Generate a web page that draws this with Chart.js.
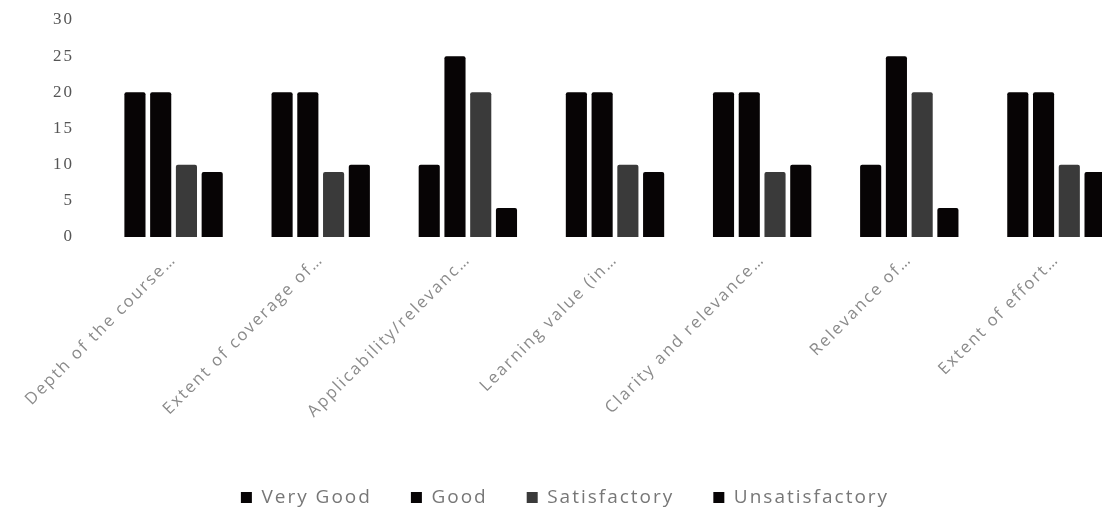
<!DOCTYPE html>
<html>
<head>
<meta charset="utf-8">
<script src="https://cdn.jsdelivr.net/npm/chart.js"></script>
<style>
  html,body{margin:0;padding:0;background:#fff;overflow:hidden;}
  #wrap{width:1130px;height:513px;}
</style>
</head>
<body>
<div id="wrap"><canvas id="c"></canvas></div>
<script>
const categories=['Depth of the course…','Extent of coverage of…','Applicability/relevanc…','Learning value (in…','Clarity and relevance…','Relevance of…','Extent of effort…'];
const veryGood=[20,20,10,20,20,10,20];
const good=[20,20,25,20,20,25,20];
const satisfactory=[10,9,20,10,9,20,10];
const unsatisfactory=[9,10,4,9,10,4,9];
const yTicks=[0,5,10,15,20,25,30];

function ds(label,data,color){
  return {label:label,data:data,backgroundColor:color,borderRadius:2,barPercentage:0.82,categoryPercentage:0.7};
}

// wide letter spacing like the scanned original
const spacing={id:'spacing',
  beforeUpdate:function(c){c.ctx.letterSpacing='2px';},
  beforeDraw:function(c){c.ctx.letterSpacing='2px';}
};

new Chart(document.getElementById('c').getContext('2d'),{
  type:'bar',
  data:{labels:categories,datasets:[
    ds('Very Good',veryGood,'#070405'),
    ds('Good',good,'#070405'),
    ds('Satisfactory',satisfactory,'#3a3a3a'),
    ds('Unsatisfactory',unsatisfactory,'#070405')
  ]},
  plugins:[spacing],
  options:{
    responsive:true,maintainAspectRatio:false,animation:false,
    layout:{padding:{top:0,bottom:-4}},
    plugins:{
      tooltip:{enabled:false},
      legend:{position:'bottom',labels:{boxWidth:11,boxHeight:11,padding:39,color:'#777',font:{family:'Open Sans',size:19}}}
    },
    scales:{
      x:{grid:{display:false,drawTicks:false},border:{display:false},
         ticks:{minRotation:45,maxRotation:45,padding:13,color:'#8a8a8a',font:{family:'Open Sans',size:16.5}},
         afterFit:function(s){s.height=212;}},
      y:{min:0,max:30,grid:{display:false,drawTicks:false},border:{display:false},
         afterBuildTicks:function(s){s.ticks=yTicks.map(v=>({value:v}));},
         ticks:{padding:26,color:'#555',font:{family:'Liberation Serif',size:17}},
         afterFit:function(s){s.width=100;s.paddingTop=20;s.paddingBottom=0;}}
    }
  }
});
</script>
</body>
</html>
